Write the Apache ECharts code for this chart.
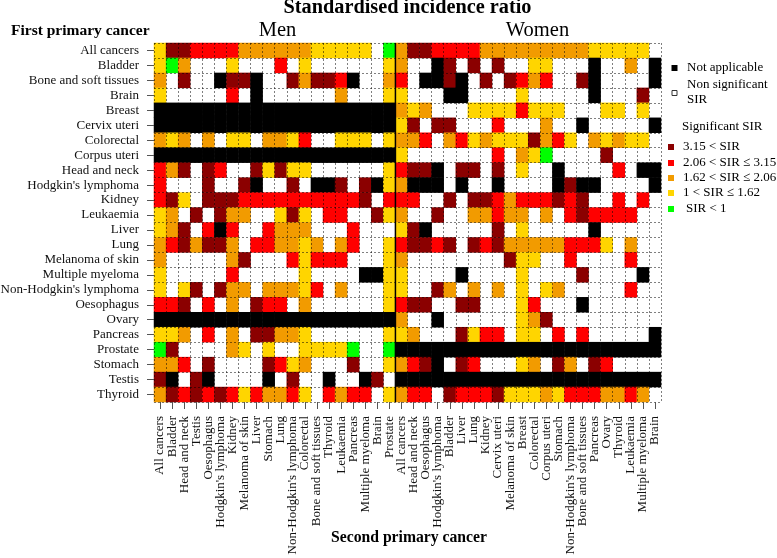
<!DOCTYPE html>
<html><head><meta charset="utf-8">
<style>html,body{margin:0;padding:0;background:#fff}#c{width:777px;height:558px}</style>
<script src="https://cdn.jsdelivr.net/npm/echarts@6/dist/echarts.min.js"></script>
</head><body><div id="c"></div>
<script>
// codes: 0 non significant, 1 SIR<1, 2 1-1.62, 3 1.62-2.06, 4 2.06-3.15, 5 >3.15, 9 not applicable
const firstPrimary = ["All cancers","Bladder","Bone and soft tissues","Brain","Breast","Cervix uteri","Colorectal","Corpus uteri","Head and neck","Hodgkin's lymphoma","Kidney","Leukaemia","Liver","Lung","Melanoma of skin","Multiple myeloma","Non-Hodgkin's lymphoma","Oesophagus","Ovary","Pancreas","Prostate","Stomach","Testis","Thyroid"];
const menSecond = ["All cancers","Bladder","Head and neck","Testis","Oesophagus","Hodgkin's lymphoma","Kidney","Melanoma of skin","Liver","Stomach","Lung","Non-Hodgkin's lymphoma","Colorectal","Bone and soft tissues","Thyroid","Leukaemia","Pancreas","Multiple myeloma","Brain","Prostate"];
const womenSecond = ["All cancers","Head and neck","Oesophagus","Hodgkin's lymphoma","Bladder","Liver","Lung","Kidney","Cervix uteri","Melanoma of skin","Breast","Colorectal","Corpus uteri","Stomach","Non-Hodgkin's lymphoma","Bone and soft tissues","Pancreas","Ovary","Thyroid","Leukaemia","Multiple myeloma","Brain"];
const allNA20 = [9,9,9,9,9,9,9,9,9,9,9,9,9,9,9,9,9,9,9,9];
const allNA22 = [9,9,9,9,9,9,9,9,9,9,9,9,9,9,9,9,9,9,9,9,9,9];
const men = [
[2,5,5,4,4,4,4,3,3,3,3,3,3,2,2,2,2,2,0,1],
[2,1,3,0,0,0,2,0,0,0,4,0,2,0,0,0,0,0,0,2],
[3,0,5,0,0,9,5,5,9,0,0,5,3,5,5,4,9,0,0,3],
[2,0,0,0,0,0,4,0,9,0,0,0,0,0,0,3,0,0,0,2],
allNA20,
allNA20,
[3,2,3,0,3,0,2,2,0,3,3,2,4,0,0,2,2,2,0,2],
allNA20,
[4,3,5,0,5,4,0,0,5,2,5,2,2,0,0,0,0,0,0,2],
[4,0,0,0,5,0,0,5,9,0,0,5,0,9,9,5,0,5,9,2],
[4,5,2,0,5,5,5,4,4,4,4,4,4,4,4,4,4,5,0,4],
[2,3,0,5,0,5,3,3,0,0,2,5,2,0,4,4,0,0,5,2],
[2,3,5,0,4,9,4,0,0,4,3,3,3,0,0,0,4,0,0,0],
[3,4,5,3,5,5,3,0,4,4,3,3,2,3,0,3,4,0,0,2],
[3,0,0,0,0,0,3,5,0,0,0,4,2,4,4,4,0,0,0,2],
[2,0,0,0,0,0,4,0,0,0,0,0,2,0,0,0,0,9,9,2],
[2,0,2,5,0,5,3,3,0,3,3,3,2,4,0,3,0,0,0,2],
[4,4,5,0,4,0,3,0,5,4,4,0,3,0,0,0,0,0,0,2],
allNA20,
[2,2,3,0,4,0,3,0,5,5,3,3,2,0,0,0,0,0,0,2],
[1,5,0,0,0,0,3,2,0,2,0,0,2,2,2,2,1,0,0,1],
[3,3,4,0,5,0,0,0,0,5,4,2,3,0,0,0,5,0,0,2],
[5,9,0,5,9,0,0,0,0,9,0,5,0,0,9,0,0,9,5,0],
[3,5,4,5,4,5,4,2,4,3,3,4,2,0,4,3,4,4,0,2]
];
const women = [
[3,5,5,4,4,4,4,3,3,3,3,3,3,3,3,3,2,2,2,2,2,0],
[3,0,0,9,5,0,5,0,5,0,0,2,2,0,0,0,9,0,0,3,0,9],
[4,0,9,9,5,9,0,5,0,5,4,3,4,0,0,5,9,0,0,0,0,9],
[2,0,0,0,9,9,0,0,0,0,2,0,0,0,0,0,9,0,0,0,5,0],
[3,2,3,0,0,0,2,2,2,2,4,2,2,2,0,0,0,2,2,0,2,0],
[2,5,0,5,5,0,0,0,4,0,0,0,3,0,0,9,0,0,0,0,0,9],
[3,3,4,0,3,4,2,3,2,2,2,5,3,4,2,0,3,2,3,2,2,0],
[2,0,0,0,0,0,0,0,4,0,3,2,1,0,0,0,0,5,0,0,0,0],
[4,5,5,9,0,5,5,0,5,0,2,0,0,9,0,0,0,0,4,0,9,9],
[3,9,9,9,0,9,0,0,9,0,0,0,0,9,5,9,9,0,0,0,0,9],
[4,4,0,0,5,0,5,5,4,3,4,4,4,5,4,5,0,0,4,0,4,0],
[3,0,0,5,0,0,3,3,4,3,3,0,3,0,4,5,4,4,4,4,0,0],
[2,5,9,0,0,0,0,0,5,0,2,0,0,0,0,0,9,0,0,0,0,0],
[4,5,5,4,5,0,5,4,5,3,3,3,3,3,4,4,4,2,0,3,0,0],
[3,0,0,0,0,0,0,0,0,5,2,2,0,0,4,0,0,0,0,4,0,0],
[2,0,0,0,0,9,0,0,0,0,2,0,0,0,0,5,0,0,0,0,9,0],
[2,0,0,5,3,0,3,0,3,0,2,0,2,3,0,0,0,0,0,4,0,0],
[4,5,5,0,0,5,5,0,0,0,2,4,0,0,0,9,0,0,0,0,0,0],
[3,0,0,9,0,0,0,0,0,0,2,3,5,0,0,0,0,0,0,0,0,0],
[2,3,0,0,0,5,2,4,4,0,2,2,0,4,0,4,0,0,0,0,0,9],
allNA22,
[3,4,5,9,0,5,4,0,0,0,2,3,0,5,3,0,5,4,0,0,0,0],
allNA22,
[3,4,4,0,5,4,4,4,5,2,2,2,3,2,4,4,4,3,3,4,3,0]
];
const levelColors = {1:'#00ff00',2:'#ffd500',3:'#f29b00',4:'#ff0000',5:'#8b0000',9:'#000000'};
const serif = '"Liberation Serif","Times New Roman",serif';

const xCats = menSecond.concat(womenSecond);
const cells = [];
firstPrimary.forEach((_, r) => {
  men[r].concat(women[r]).forEach((v, c) => { if (v !== 0) cells.push({value:[c, r, v], itemStyle:{color:levelColors[v]}}); });
});

const legendRows = [
  ['#8b0000','3.15 < SIR',147,683],
  ['#ff0000','2.06 < SIR ≤ 3.15',163,683],
  ['#f29b00','1.62 < SIR ≤ 2.06',178,683],
  ['#ffd500','1 < SIR ≤ 1.62',193,683],
  ['#00ff00','SIR < 1',209,686]
];
const txt = (x,y,text,o={}) => ({type:'text',x,y,style:Object.assign({text,fontFamily:serif,fontSize:13,fill:'#000',textVerticalAlign:'middle'},o)});
const sq = (cx,cy,s,fill,stroke) => ({type:'rect',shape:{x:cx-s/2,y:cy-s/2,width:s,height:s},style:{fill,stroke:stroke||null,lineWidth:1}});
const graphics = [
  txt(407.5,8,'Standardised incidence ratio',{fontSize:20.3,fontWeight:'bold',textAlign:'center'}),
  txt(277.5,31,'Men',{fontSize:20.5,textAlign:'center'}),
  txt(537.5,31,'Women',{fontSize:20.5,textAlign:'center'}),
  txt(11,31,'First primary cancer',{fontSize:15.5,fontWeight:'bold'}),
  txt(409,538,'Second primary cancer',{fontSize:15.7,fontWeight:'bold',textAlign:'center'}),
  sq(674.5,68,6,'#000'),
  txt(687,68,'Not applicable'),
  sq(674.5,93,5,'#fff','#333'),
  txt(687,85,'Non significant'),
  txt(687,100,'SIR'),
  txt(682,127,'Significant SIR')
];
legendRows.forEach(([c,t,y,x]) => { graphics.push(sq(671,y,6,c)); graphics.push(txt(x,y,t)); });

const dots = {show:true,interval:0,lineStyle:{color:'rgba(0,0,0,0.5)',type:[2,2],width:1}};
const chart = echarts.init(document.getElementById('c'), null, {renderer:'canvas'});
chart.setOption({
  animation:false,
  backgroundColor:'#fff',
  grid:{left:154,top:43,width:507,height:359,containLabel:false,outerBoundsMode:'none'},
  xAxis:{type:'category',data:xCats,z:5,
    axisLine:{show:false},
    axisTick:{show:true,alignWithLabel:true,length:7,lineStyle:{color:'#555'}},
    axisLabel:{interval:0,rotate:90,margin:14,fontFamily:serif,fontSize:13,color:'#111',hideOverlap:false},
    splitLine:dots},
  yAxis:{type:'category',inverse:true,data:firstPrimary,z:5,
    axisLine:{show:false},
    axisTick:{show:true,alignWithLabel:true,length:7,lineStyle:{color:'#555'}},
    axisLabel:{interval:0,margin:15,fontFamily:serif,fontSize:13,color:'#111'},
    splitLine:dots},
  series:[{type:'heatmap',data:cells,progressive:0,emphasis:{disabled:true},itemStyle:{borderWidth:0}}],
  graphic:graphics
});
const px = i => chart.convertToPixel({xAxisIndex:0}, i);
const sep = (px(menSecond.length-1)+px(menSecond.length))/2;
chart.setOption({graphic:graphics.concat([{type:'line',shape:{x1:sep,y1:43,x2:sep,y2:402},style:{stroke:'#000',lineWidth:1.5},z:10}])});
</script></body></html>
